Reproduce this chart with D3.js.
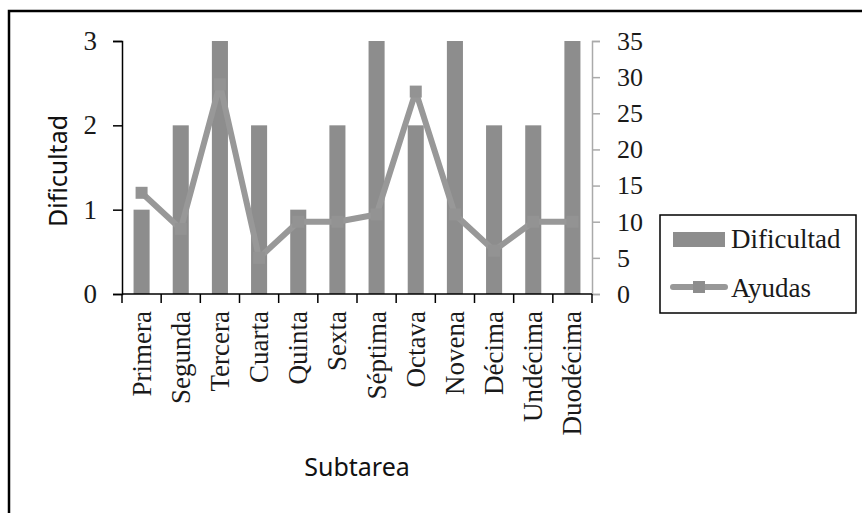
<!DOCTYPE html>
<html lang="es">
	<head>
		<meta charset="UTF-8">
		<title>Dificultad y Ayudas</title>
		<style>
			body{margin:0;background:#fff;}
			.serif text{font-family:"Liberation Serif",serif;font-size:27px;fill:#1a1a1a;}
			.title{font-family:"Noto Sans",sans-serif;font-size:25px;fill:#111;}
			.legend text{font-family:"Liberation Serif",serif;font-size:27px;fill:#1a1a1a;}
		</style>
	</head>
	<body>
	<script src="https://cdn.jsdelivr.net/npm/d3@7"></script>
	<script>
		// datos
		var subtareas = ["Primera","Segunda","Tercera","Cuarta","Quinta","Sexta","Séptima","Octava","Novena","Décima","Undécima","Duodécima"];
		var dificultad = [1,2,3,2,1,2,3,2,3,2,2,3];
		var ayudas = [14,9,29,5,10,10,11,28,11,6,10,10];
		var ticksIzq = [0,1,2,3];
		var ticksDer = [0,5,10,15,20,25,30,35];

		var W = 862, H = 513;
		var plot = {left:122, right:592, top:41, bottom:294};
		var colorBarra = "#8d8d8d", colorLinea = "#989898", colorMarca = "#939393";

		var svg = d3.select("body").append("svg")
			.attr("width",W).attr("height",H);

		// marco exterior (solo arriba e izquierda visibles)
		svg.append("path")
			.attr("d","M9,"+(H+5)+"V11H"+(W+5))
			.attr("fill","none").attr("stroke","#000").attr("stroke-width",2.5);

		var x = d3.scaleBand().domain(subtareas).range([plot.left,plot.right]);
		var yIzq = d3.scaleLinear().domain([0,3]).range([plot.bottom,plot.top]);
		var yDer = d3.scaleLinear().domain([0,35]).range([plot.bottom,plot.top]);
		var anchoBarra = x.bandwidth()*0.41;

		// barras
		svg.append("g").selectAll("rect")
			.data(dificultad)
			.join("rect")
			.attr("x",function(d,i){return x(subtareas[i])+(x.bandwidth()-anchoBarra)/2;})
			.attr("y",function(d){return yIzq(d);})
			.attr("width",anchoBarra)
			.attr("height",function(d){return yIzq(0)-yIzq(d);})
			.attr("fill",colorBarra);

		// eje derecho
		var gDer = svg.append("g")
			.attr("class","serif")
			.attr("transform","translate("+plot.right+",0)")
			.call(d3.axisRight(yDer).tickValues(ticksDer).tickSize(8).tickPadding(17));
		gDer.select(".domain").attr("stroke","#aaa").attr("stroke-width",1.5);
		gDer.selectAll(".tick line").attr("stroke","#aaa").attr("stroke-width",1.5);
		gDer.selectAll("text").style("font-size","26px");

		// eje x
		var gx = svg.append("g")
			.attr("transform","translate(0,"+plot.bottom+")");
		gx.append("line")
			.attr("x1",plot.left).attr("x2",plot.right)
			.attr("stroke","#000").attr("stroke-width",1.5);
		gx.selectAll(".tk")
			.data(subtareas.concat(["fin"]))
			.join("line")
			.attr("class","tk")
			.attr("x1",function(d,i){return i<subtareas.length?x(d):x(subtareas[i-1])+x.bandwidth();})
			.attr("x2",function(d,i){return i<subtareas.length?x(d):x(subtareas[i-1])+x.bandwidth();})
			.attr("y1",0).attr("y2",9)
			.attr("stroke","#000").attr("stroke-width",1.5);
		gx.append("g").attr("class","serif").selectAll("text")
			.data(subtareas)
			.join("text")
			.attr("transform",function(d){return "translate("+(x(d)+x.bandwidth()/2)+",17) rotate(-90)";})
			.attr("text-anchor","end")
			.attr("dy","0.33em")
			.text(function(d){return d;});

		// eje izquierdo
		var gIzq = svg.append("g")
			.attr("class","serif")
			.attr("transform","translate("+plot.left+",0)")
			.call(d3.axisLeft(yIzq).tickValues(ticksIzq).tickSize(9).tickPadding(16).tickFormat(d3.format("d")));
		gIzq.select(".domain").attr("stroke","#000").attr("stroke-width",1.5);
		gIzq.selectAll(".tick line").attr("stroke","#000").attr("stroke-width",1.5);

		// línea de ayudas
		var linea = d3.line()
			.x(function(d,i){return x(subtareas[i])+x.bandwidth()/2;})
			.y(function(d){return yDer(d);});
		svg.append("path")
			.datum(ayudas)
			.attr("d",linea)
			.attr("fill","none")
			.attr("stroke",colorLinea)
			.attr("stroke-width",6)
			.attr("stroke-linejoin","round");
		svg.append("g").selectAll("rect")
			.data(ayudas)
			.join("rect")
			.attr("x",function(d,i){return x(subtareas[i])+x.bandwidth()/2-6;})
			.attr("y",function(d){return yDer(d)-6;})
			.attr("width",12).attr("height",12)
			.attr("fill",colorMarca);

		// títulos de ejes
		svg.append("text").attr("class","title")
			.attr("transform","translate(67,171) rotate(-90)")
			.attr("text-anchor","middle")
			.text("Dificultad");
		svg.append("text").attr("class","title")
			.attr("x",(plot.left+plot.right)/2).attr("y",476)
			.attr("text-anchor","middle")
			.text("Subtarea");

		// leyenda
		var lg = svg.append("g").attr("class","legend").attr("transform","translate(660,215)");
		lg.append("rect").attr("width",196).attr("height",98)
			.attr("fill","#fff").attr("stroke","#000").attr("stroke-width",1.5);
		lg.append("rect").attr("x",13).attr("y",17).attr("width",52).attr("height",15).attr("fill",colorBarra);
		lg.append("text").attr("x",71).attr("y",33).text("Dificultad");
		lg.append("line").attr("x1",13).attr("x2",65).attr("y1",72).attr("y2",72)
			.attr("stroke",colorLinea).attr("stroke-width",6).attr("stroke-linecap","round");
		lg.append("rect").attr("x",33).attr("y",66).attr("width",12).attr("height",12).attr("fill",colorBarra);
		lg.append("text").attr("x",71).attr("y",82).text("Ayudas");
	</script>
	</body>
</html>
